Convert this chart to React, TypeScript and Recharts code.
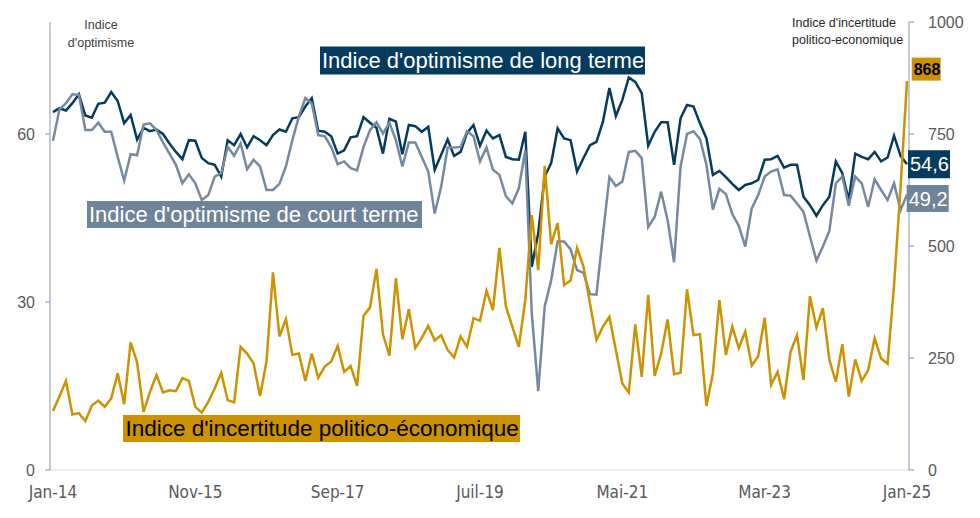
import { Line, LineChart, XAxis, YAxis } from "recharts";

// Indices mensuels jan-2014 → jan-2025 (133 points)
const longTerme = [
  63.9, 64.6, 64.2, 65.5, 67.1, 63.3, 62.9, 65.4, 65.6, 67.5, 65.9, 61.9,
  63.4, 59.0, 61.1, 60.5, 60.8, 60.0, 58.3, 56.8, 55.5, 58.9, 58.8, 55.7,
  54.8, 54.5, 52.4, 58.9, 58.0, 60.0, 57.6, 59.6, 58.9, 58.0, 59.8, 60.8,
  60.4, 62.8, 63.0, 64.9, 66.4, 60.6, 60.4, 59.6, 56.5, 57.1, 59.4, 59.6,
  63.0, 62.0, 61.1, 56.5, 62.7, 62.2, 56.4, 61.6, 61.4, 60.4, 61.3, 53.6,
  56.3, 59.0, 56.1, 56.8, 60.2, 61.6, 57.9, 60.6, 59.2, 59.8, 55.9, 55.5,
  55.4, 60.4, 36.3, 42.3, 52.4, 54.8, 61.0, 59.2, 58.9, 53.3, 55.7, 58.0,
  58.6, 62.2, 68.2, 63.2, 66.1, 70.1, 69.3, 67.3, 57.9, 60.4, 62.1, 62.1,
  54.5, 62.8, 65.2, 64.9, 61.9, 59.2, 52.7, 53.4, 52.3, 51.1, 50.0, 50.9,
  51.2, 51.8, 55.4, 55.5, 56.1, 54.0, 54.5, 54.5, 48.8, 47.3, 45.4, 47.3,
  48.8, 55.1, 53.0, 48.2, 56.5, 55.9, 55.5, 56.8, 55.1, 55.8, 59.7, 56.1,
  54.6,
];
const courtTerme = [
  58.8, 64.4, 65.5, 67.1, 67.0, 60.7, 60.7, 62.0, 60.4, 60.4, 55.9, 51.7,
  56.4, 56.2, 61.7, 61.9, 60.7, 58.5, 56.5, 54.5, 51.2, 52.8, 51.2, 48.2,
  49.1, 52.4, 53.0, 57.7, 56.1, 58.3, 53.7, 55.4, 54.2, 50.0, 50.0, 51.1,
  54.2, 58.9, 63.1, 66.4, 65.5, 59.8, 59.6, 57.7, 54.6, 55.1, 53.9, 53.5,
  57.7, 60.7, 62.1, 60.1, 62.0, 58.9, 54.2, 58.5, 58.5, 55.9, 53.3, 45.8,
  50.6, 57.6, 57.6, 57.7, 60.5, 59.6, 55.1, 57.6, 53.6, 52.7, 48.9, 47.6,
  50.3, 57.1, 28.0, 14.1, 29.2, 33.9, 40.8, 40.8, 39.4, 35.7, 35.2, 31.4,
  31.3, 42.0, 52.3, 50.7, 51.5, 56.8, 57.0, 55.7, 43.4, 45.2, 49.7, 44.6,
  37.1, 54.2, 60.0, 60.5, 59.1, 54.5, 46.5, 50.2, 49.3, 45.7, 43.6, 39.9,
  46.7, 49.1, 52.4, 53.3, 53.7, 49.1, 49.0, 47.6, 46.1, 41.7, 37.4, 39.9,
  42.7, 51.2, 52.4, 47.2, 52.4, 51.2, 47.0, 51.9, 50.0, 48.2, 51.2, 46.4,
  49.2,
];
const incertitude = [
  132, 164, 199, 124, 127, 109, 144, 155, 141, 160, 216, 147,
  285, 240, 130, 175, 212, 173, 178, 176, 205, 199, 141, 128,
  152, 182, 217, 156, 151, 275, 260, 238, 165, 242, 441, 298,
  337, 257, 260, 199, 260, 206, 231, 242, 277, 219, 232, 188,
  344, 363, 449, 303, 255, 428, 292, 359, 272, 295, 322, 289,
  301, 268, 251, 298, 275, 339, 333, 400, 357, 496, 365, 320,
  275, 379, 569, 446, 679, 504, 551, 413, 423, 496, 454, 372,
  290, 320, 342, 268, 193, 173, 325, 208, 391, 210, 260, 336,
  214, 217, 403, 301, 303, 143, 216, 379, 257, 320, 272, 309,
  233, 254, 340, 190, 219, 158, 264, 301, 201, 388, 318, 361,
  246, 197, 281, 164, 247, 199, 223, 294, 249, 237, 413, 630,
  868,
];

const MOIS = ["Jan", "Fév", "Mar", "Avr", "Mai", "Juin", "Juil", "Aoû", "Sep", "Oct", "Nov", "Déc"];
const ticksGauche = [0, 30, 60];
const ticksDroite = [0, 250, 500, 750, 1000];

const data = longTerme.map((v, i) => ({
  m: `${MOIS[i % 12]}-${14 + Math.floor(i / 12)}`,
  long: v,
  court: courtTerme[i],
  inc: incertitude[i],
}));
const LAST = data.length - 1;

const NAVY = "#053b5c";
const GRIS = "#6f8399";
const OR = "#cc9200";
const SANS = "'Liberation Sans', Arial, sans-serif";
const tickStyle = { fill: "#595959", fontSize: 16, fontFamily: SANS };

// étiquette de fin de série (dernier point seulement)
const tag = (fill: string, color: string, dx: number, dy: number, w: number, h: number, bold = false, fs = 20) =>
  (p: any) => {
    if (p.index !== LAST) return <g key={p.index} />;
    const txt = String(p.value).replace(".", ",");
    return (
      <g key="tag">
        <rect x={p.x + dx} y={p.y + dy} width={w} height={h} fill={fill} />
        <text x={p.x + dx + 2} y={p.y + dy + h / 2 + fs * 0.36} fill={color} fontSize={fs}
              fontWeight={bold ? 700 : 400} fontFamily={SANS}>{txt}</text>
      </g>
    );
  };

export default function App() {
  return (
    <div style={{ position: "absolute", left: 0, top: 0, width: 980, height: 518, background: "#fff" }}>
      <LineChart width={980} height={518} data={data} margin={{ top: 22, right: 0, bottom: 0, left: 0 }}>
        <XAxis dataKey="m" interval={21} tickLine={false} axisLine={{ stroke: "#d9d9d9" }} height={48}
               padding={{ left: 3, right: 2 }} tickSize={0} tickMargin={16}
               tick={{ fill: "#595959", fontSize: 17, fontFamily: "'Liberation Sans Narrow', 'DejaVu Sans Condensed', sans-serif" }} />
        <YAxis yAxisId="g" domain={[0, 80]} ticks={ticksGauche} width={50} tickSize={5} tickMargin={10}
               axisLine={{ stroke: "#8497b0" }} tickLine={{ stroke: "#8497b0" }} tick={tickStyle} />
        <YAxis yAxisId="d" orientation="right" domain={[0, 1000]} ticks={ticksDroite} width={71} tickSize={5}
               tickMargin={14} axisLine={{ stroke: "#8497b0" }} tickLine={{ stroke: "#8497b0" }} tick={tickStyle} />
        <Line yAxisId="g" dataKey="long" stroke={NAVY} strokeWidth={2.5} dot={false} isAnimationActive={false}
              label={tag(NAVY, "#fff", 1, -14, 42, 28)} />
        <Line yAxisId="g" dataKey="court" stroke="#7689a0" strokeWidth={2.5} dot={false} isAnimationActive={false}
              label={tag(GRIS, "#fff", -0.3, -9.5, 42, 27)} />
        <Line yAxisId="d" dataKey="inc" stroke={OR} strokeWidth={2.5} dot={false} isAnimationActive={false}
              label={tag(OR, "#000", 4.7, -23.5, 29, 23, true, 16)} />
      </LineChart>
      <svg width={980} height={518} style={{ position: "absolute", left: 0, top: 0, pointerEvents: "none" }}
           fontFamily={SANS}>
        <text x={101} y={29} textAnchor="middle" fontSize={12.5} fill="#404040">Indice</text>
        <text x={101} y={47} textAnchor="middle" fontSize={12.5} fill="#404040">d'optimisme</text>
        <text x={792} y={27} fontSize={12.5} fill="#262626">Indice d'incertitude</text>
        <text x={792} y={44} fontSize={12.5} fill="#262626">politico-economique</text>

        <rect x={320} y={46.5} width={325} height={28} fill={NAVY} />
        <text x={322} y={68.2} fontSize={22} fill="#fff">Indice d'optimisme de long terme</text>
        <rect x={87} y={201} width={335} height={27} fill={GRIS} />
        <text x={89} y={222} fontSize={22} fill="#fff">Indice d'optimisme de court terme</text>
        <rect x={123} y={415} width={397} height={27} fill={OR} />
        <text x={125.5} y={435.7} fontSize={22.5} fill="#000">Indice d'incertitude politico-économique</text>
      </svg>
    </div>
  );
}
